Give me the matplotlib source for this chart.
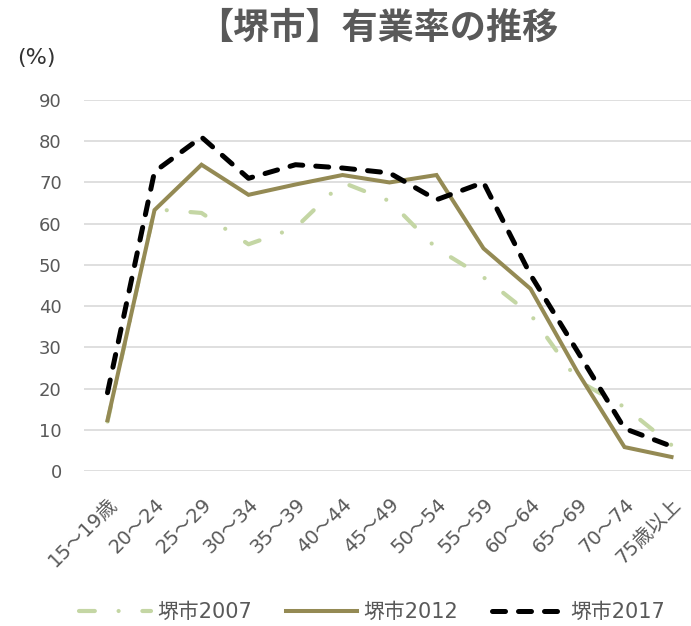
import matplotlib
matplotlib.use("Agg")
import matplotlib.pyplot as plt

# Latin glyphs from DejaVu, Japanese falls through to Noto CJK
plt.rcParams["font.family"] = ["DejaVu Sans", "Noto Sans CJK JP"]

# ------------------------------------------------------------
# Data: labour force participation by age group (%)
# ------------------------------------------------------------
age_groups = ["15～19歳", "20～24", "25～29", "30～34", "35～39", "40～44",
              "45～49", "50～54", "55～59", "60～64", "65～69", "70～74", "75歳以上"]

rate_2007 = [12.0, 63.5, 62.6, 55.0, 59.0, 70.0, 65.5, 54.0, 47.0, 38.0, 22.0, 15.5, 6.3]
rate_2012 = [12.3, 63.3, 74.3, 67.0, 69.5, 71.8, 70.0, 71.8, 54.0, 44.2, 24.0, 5.8, 3.4]
rate_2017 = [19.0, 72.6, 81.0, 71.0, 74.3, 73.5, 72.3, 65.8, 70.0, 47.6, 29.0, 10.3, 6.0]

series_names = ["堺市2007", "堺市2012", "堺市2017"]
yticks = list(range(0, 100, 10))

# ------------------------------------------------------------
# Figure
# ------------------------------------------------------------
fig = plt.figure(figsize=(6.91, 6.26), dpi=100)
ax = fig.add_axes([84 / 691, (626 - 471) / 626, 611 / 691, 371 / 626])

x = list(range(len(age_groups)))

ax.plot(x, rate_2007, color="#c4d6a4", linewidth=3.0,
        linestyle=(0, (3.8, 5.7, 0.01, 5.7)), dash_capstyle="round",
        label=series_names[0], zorder=3)
ax.plot(x, rate_2012, color="#948a54", linewidth=2.9,
        solid_joinstyle="miter", label=series_names[1], zorder=4)
ax.plot(x, rate_2017, color="black", linewidth=3.6,
        linestyle=(0, (2.6, 2.6)), dash_capstyle="round",
        label=series_names[2], zorder=5)

ax.set_xlim(-0.5, len(age_groups) - 0.5)
ax.set_ylim(0, 90)
ax.set_yticks(yticks)
ax.set_xticks(x)
ax.set_xticklabels(age_groups, rotation=45, ha="right", rotation_mode="anchor")
ax.grid(axis="y", color="#d9d9d9", linewidth=1.2, zorder=0)
ax.set_axisbelow(True)

for side in ["top", "right", "left", "bottom"]:
    ax.spines[side].set_visible(False)
ax.tick_params(axis="y", length=0, labelsize=13, colors="#595959", pad=16)
ax.tick_params(axis="x", length=0, labelsize=14, colors="#595959", pad=17)

fig.text(378 / 691, 1 - 28 / 626, "【堺市】有業率の推移", ha="center", va="center",
         fontsize=26, fontweight="bold", color="#595959",
         family=["Noto Sans CJK JP", "DejaVu Sans"])
fig.text(17 / 691, 1 - 58 / 626, "(%)", ha="left", va="center",
         fontsize=16, color="#333333")

fig.legend(loc="center", bbox_to_anchor=(372 / 691, 1 - 612 / 626), ncol=3,
           frameon=False, fontsize=15, handlelength=3.45, handletextpad=0.3,
           columnspacing=1.6, labelcolor="#595959")

fig.savefig("out.png", dpi=100)
